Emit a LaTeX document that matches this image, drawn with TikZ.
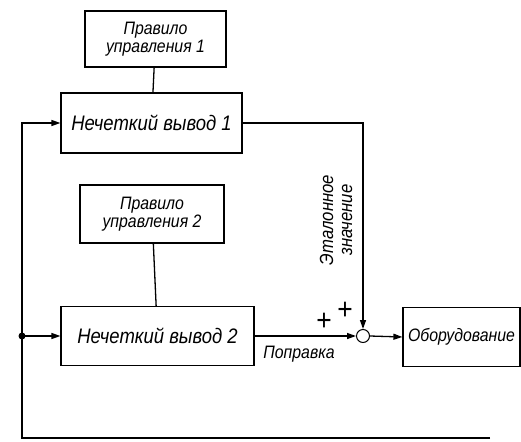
\documentclass[tikz,border=0pt]{standalone}
\usepackage{fontspec}
\setmainfont{Liberation Sans}[FakeStretch=0.88]
\usetikzlibrary{arrows.meta}
\tikzset{
  blk/.style={draw, line width=1.2pt, inner sep=2pt, align=center},
  big/.style={font=\itshape\fontsize{21}{22}\selectfont},
  small/.style={font=\itshape\fontsize{18}{18}\selectfont},
  arr/.style={-{Triangle[length=9pt,width=6pt]}},
  sign/.style={font=\fontsize{30}{30}\selectfont, inner sep=0pt},
}
\begin{document}
\begin{tikzpicture}[x=1pt, y=-1pt, line width=1.3pt]
    \useasboundingbox (0,0) rectangle (521,441);
    % blocks
    \node[blk, small, minimum width=141pt, minimum height=56pt] (rule1) at (155.5,39) {Правило\\управления 1};
    \node[blk, big, minimum width=181pt, minimum height=60pt] (fuzzy1) at (151.5,123) {Нечеткий вывод 1};
    \node[blk, small, minimum width=144pt, minimum height=58pt] (rule2) at (152,214) {Правило\\управления 2};
    \node[blk, big, minimum width=193pt, minimum height=59pt] (fuzzy2) at (157.5,336) {Нечеткий вывод 2};
    \node[blk, small, minimum width=117pt, minimum height=59pt] (plant) at (461.5,337) {Оборудование};
    \node[draw, circle, line width=1pt, minimum size=13pt, inner sep=0pt] (sum) at (363,336) {};
    \coordinate (split) at (22,336);
    \coordinate (fbright) at (490,438);
    \coordinate (fbleft) at (22,438);
    % links
    \draw (rule1) -- (fuzzy1);
    \draw (rule2) -- (fuzzy2);
    \draw[arr] (fuzzy1.east) -| (sum.north);
    \draw[arr] (fuzzy2.east) -- (sum.west);
    \draw[arr] (sum.east) -- (plant.west);
    \draw (fbright) -- (fbleft) -- (split);
    \draw[arr] (split) |- (fuzzy1.west);
    \draw[arr] (split) -- (fuzzy2.west);
    \fill (split) circle (3.5pt);
    % labels
    \node[font=\itshape\fontsize{19}{19}\selectfont, rotate=90, align=center] (ref) at (336,220) {Эталонное\\значение};
    \node[small] (corr) at (299,354) {Поправка};
    \node[sign] (plus1) at (324,322) {+};
    \node[sign] (plus2) at (345,311) {+};
\end{tikzpicture}
\end{document}
